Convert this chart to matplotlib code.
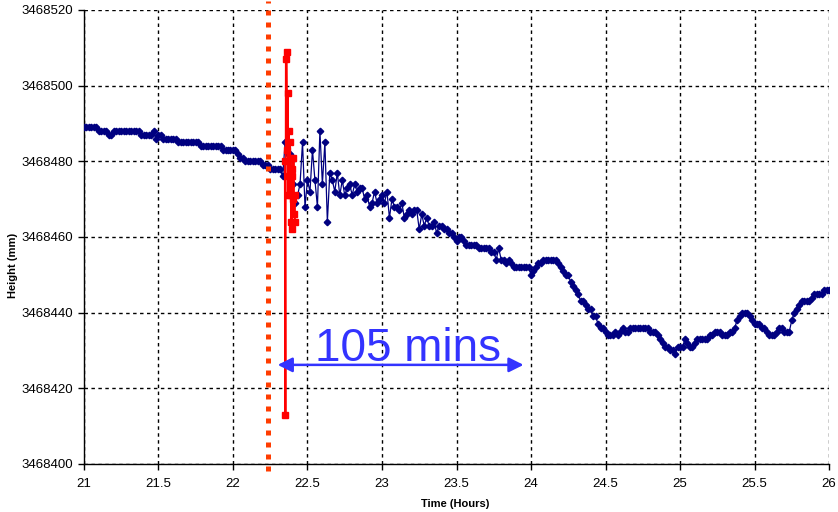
import numpy as np
import matplotlib
matplotlib.use("Agg")
import matplotlib.pyplot as plt
from matplotlib.ticker import MultipleLocator, FuncFormatter

plt.rcParams['font.family'] = ['Liberation Sans', 'DejaVu Sans']

BASE = 3468400

# blue series, one reading per minute from 21:00, heights in mm above BASE
minutes = np.arange(301)
blue_off = [
    89, 89, 89, 89, 89, 89, 88, 88, 88, 88, 87, 87,
    88, 88, 88, 88, 88, 88, 88, 88, 88, 88, 88,
    87, 87, 87, 87, 87, 88, 86, 87, 87,
    86, 86, 86, 86, 86, 86,
    85, 85, 85, 85, 85, 85, 85, 85, 85,
    84, 84, 84, 84, 84, 84, 84, 84, 84,
    83, 83, 83, 83, 83, 83, 82, 81, 81,
    80, 80, 80, 80, 80, 80, 80, 79, 79, 79,
    78, 78, 78, 78, 78, 76,
    85, 82, 82, 74, 69, 71, 74, 85, 68, 75,
    72, 83, 75, 68, 88, 74, 85, 64, 77, 75,
    72, 77, 71, 75, 71, 73, 74, 71, 74, 72,
    73, 73, 70, 71, 68, 69, 72, 69, 70, 71,
    69, 72, 65, 70, 68, 68, 67, 69,
    65, 66, 67, 66, 67, 67, 62, 66, 63, 65,
    63, 63, 64, 61, 63, 63, 62, 62, 61, 61,
    60, 59, 60, 60, 59, 58, 58, 58, 58, 58,
    57, 57, 57, 57, 57, 56, 56, 54, 57, 54,
    54, 53, 54, 53, 52, 52, 52, 52, 52, 52,
    52, 50, 51, 52, 53, 53, 54, 54, 54, 54,
    54, 54, 53, 52, 51, 50,
    50, 48, 47, 46, 45, 43, 43, 42, 41, 41,
    39, 39, 37, 36, 36, 35, 34, 34, 34, 35,
    34, 35, 36, 35, 35, 36, 36, 36, 36, 36,
    36, 36, 36, 35, 35, 35, 34, 33, 32, 31,
    31, 30, 30, 29, 31, 31, 31, 33, 32, 31,
    31, 32, 33, 33,
    33, 33, 33, 34, 34, 35, 35, 35, 34, 34,
    34, 35, 35, 36, 38, 39, 40, 40, 40, 39,
    38, 37, 37, 37, 36, 36, 35, 34, 34, 34,
    35, 36, 36, 35, 35, 35, 38, 40, 41, 42,
    43, 43, 43, 43, 44, 45, 45, 45, 45, 46,
    46, 46,
]
blue_t = 21 + minutes / 60
blue_h = BASE + np.array(blue_off)

# red burst
red_t = [22.348, 22.352, 22.355, 22.360, 22.364, 22.368, 22.371, 22.374,
         22.377, 22.380, 22.383, 22.386, 22.390, 22.393, 22.396, 22.399,
         22.403, 22.406, 22.410, 22.413, 22.416]
red_off = [80, 13, 107, 109, 83, 98, 71, 88, 76, 85, 71, 81, 64, 76, 62,
           78, 70, 81, 66, 71, 64]
red_h = BASE + np.array(red_off)

event_t = 22.235
arrow_t = [22.30, 23.95]
arrow_h = BASE + 26.2

fig = plt.figure(figsize=(8.38, 5.12), dpi=100)
ax = fig.add_axes([0.1002, 0.09375, 0.8891, 0.8868])

ax.plot(blue_t, blue_h, color='#000080', lw=0.9, marker='D', ms=3.3,
        mec='#000080', mfc='#000080', zorder=3)
ax.plot(red_t, red_h, color='#ff0000', lw=1.4, marker='s', ms=4.0,
        mec='#ff0000', mfc='#ff0000', zorder=4)

ax.axvline(event_t, ymin=-0.015, ymax=1.02, color='#ff3c00', lw=3.6,
           linestyle=(0, (1, 1.4)), clip_on=False, zorder=5)

ax.annotate('', xy=(arrow_t[0], arrow_h), xytext=(arrow_t[1], arrow_h),
            arrowprops=dict(arrowstyle='<|-|>', color='#3333ff', lw=1.8,
                            mutation_scale=22, shrinkA=0, shrinkB=0), zorder=6)
ax.text(23.175, BASE + 27.3, '105 mins', color='#3333ff',
        fontsize=33, ha='center', va='baseline', zorder=6)

ax.set_xlim(21, 26)
ax.set_ylim(3468400, 3468520)
ax.xaxis.set_major_locator(MultipleLocator(0.5))
ax.yaxis.set_major_locator(MultipleLocator(20))
ax.xaxis.set_major_formatter(FuncFormatter(lambda v, p: '%g' % v))
ax.yaxis.set_major_formatter(FuncFormatter(lambda v, p: '%d' % v))

ax.grid(True, color='black', lw=1.0, linestyle=(0, (2.5, 2.5)))
ax.set_axisbelow(True)
for s in ['top', 'right']:
    ax.spines[s].set_visible(False)
ax.spines['left'].set_linewidth(1.0)
ax.spines['bottom'].set_linewidth(1.0)
ax.tick_params(axis='both', labelsize=9.5, length=4, width=1, direction='out',
               colors='black')
ax.tick_params(axis='y', pad=4)
ax.tick_params(axis='x', pad=6)

ax.set_xlabel('Time (Hours)', fontsize=8, fontweight='bold')
ax.set_ylabel('Height (mm)', fontsize=8, fontweight='bold')
ax.xaxis.set_label_coords(0.498, -0.078)
ax.yaxis.set_label_coords(-0.088, 0.438)

fig.savefig('out.png', dpi=100)
